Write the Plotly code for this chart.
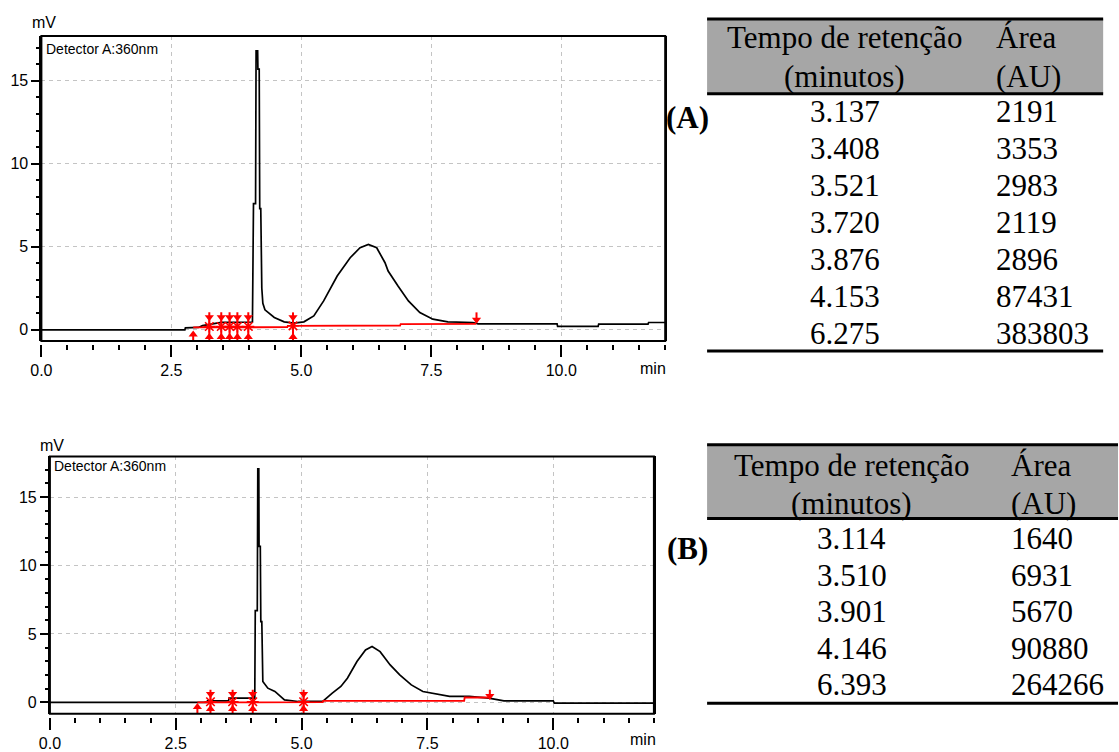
import plotly.graph_objects as go

W, H = 1119, 752

# ---------------- data: chromatogram A ----------------
time_a = [0, 2.76, 2.77, 3.02, 3.10, 3.30, 3.46, 3.70, 4.06, 4.08, 4.12, 4.13, 4.16, 4.165, 4.19,
          4.20, 4.22, 4.24, 4.26, 4.30, 4.40, 4.48, 4.67, 4.86, 5.05, 5.24, 5.43, 5.69, 5.94,
          6.13, 6.29, 6.45, 6.61, 6.67, 6.86, 7.06, 7.28, 7.53, 7.82, 8.30, 8.40, 9.92, 9.93,
          10.71, 10.72, 11.67, 11.68, 12.0]
signal_a = [0, 0, 0.12, 0.14, 0.25, 0.35, 0.45, 0.45, 0.47, 7.6, 7.6, 16.8, 16.8, 15.7, 15.7,
            7.3, 7.3, 2.5, 1.6, 1.2, 0.95, 0.74, 0.48, 0.40, 0.48, 0.84, 1.74, 3.24, 4.34,
            4.94, 5.14, 4.94, 4.04, 3.54, 2.64, 1.74, 1.04, 0.64, 0.48, 0.44, 0.36, 0.36, 0.2,
            0.2, 0.34, 0.34, 0.44, 0.44]
base_time_a = [2.92, 4.73, 4.74, 6.90, 6.91, 8.36]
base_val_a = [0.14, 0.16, 0.24, 0.26, 0.34, 0.36]
marks_a = [3.23, 3.46, 3.62, 3.77, 3.98, 4.84]
marks_level_a = [0.2, 0.2, 0.2, 0.2, 0.2, 0.24]
start_a, end_a = 2.92, 8.37

# ---------------- data: chromatogram B ----------------
time_b = [0, 3.12, 3.13, 3.55, 3.56, 4.07, 4.08, 4.12, 4.13, 4.15, 4.155, 4.18, 4.19, 4.21,
          4.23, 4.33, 4.47, 4.66, 4.93, 5.42, 5.61, 5.78, 5.91, 6.10, 6.27, 6.40, 6.56, 6.76,
          6.95, 7.18, 7.41, 7.68, 7.94, 8.33, 8.72, 9.02, 10.0, 10.02, 12.0]
signal_b = [0, 0, 0.12, 0.12, 0.31, 0.31, 6.7, 6.7, 17.06, 17.06, 11.4, 11.4, 5.9, 5.9,
            1.53, 1.04, 0.8, 0.19, 0.07, 0.07, 0.68, 1.17, 1.77, 2.99, 3.83, 4.08, 3.71, 2.74,
            2.01, 1.28, 0.80, 0.60, 0.44, 0.44, 0.31, 0.12, 0.12, -0.05, -0.05]
base_time_b = [2.93, 5.42, 5.43, 8.23, 8.24, 8.74]
base_val_b = [0.0, 0.02, 0.12, 0.12, 0.36, 0.36]
marks_b = [3.19, 3.63, 4.03, 5.04]
marks_level_b = [0.05, 0.05, 0.05, 0.05]
start_b, end_b = 2.93, 8.74

x_ticks = [0, 2.5, 5.0, 7.5, 10.0]
x_tick_labels = ["0.0", "2.5", "5.0", "7.5", "10.0"]
y_ticks = [0, 5, 10, 15]

# ---------------- data: tables ----------------
header_col1 = ["Tempo de retenção", "(minutos)"]
header_col2 = ["Área", "(AU)"]
rt_a = ["3.137", "3.408", "3.521", "3.720", "3.876", "4.153", "6.275"]
area_a = ["2191", "3353", "2983", "2119", "2896", "87431", "383803"]
rt_b = ["3.114", "3.510", "3.901", "4.146", "6.393"]
area_b = ["1640", "6931", "5670", "90880", "264266"]

RED = "#ff0000"
GRID = "#c4c4c4"
SANS = "Liberation Sans, Arial, sans-serif"
AXFONT = dict(family=SANS, size=16, color="black")
LBLFONT = dict(family=SANS, size=14, color="black")
SERIF = "Liberation Serif, Times New Roman, serif"


def px(x):
    return x / W


def py(y):
    return 1 - y / H


fig = go.Figure()


def add_chrom(xa, ya, t, s, bt, bv, marks, levels, start, end, span):
    fig.add_trace(go.Scatter(x=t, y=s, mode="lines", line=dict(color="black", width=1.7),
                             xaxis=xa, yaxis=ya, showlegend=False, hoverinfo="skip"))
    fig.add_trace(go.Scatter(x=bt, y=bv, mode="lines", line=dict(color=RED, width=1.8),
                             xaxis=xa, yaxis=ya, showlegend=False, hoverinfo="skip"))
    lo, hi = span
    vx, vy = [], []
    for m in marks:
        vx += [m, m, None]
        vy += [lo, hi, None]
    vx += [start, start, None, end, end, None]
    vy += [lo, lo + 0.6, None, hi - 0.6, hi, None]
    fig.add_trace(go.Scatter(x=vx, y=vy, mode="lines", line=dict(color=RED, width=2),
                             xaxis=xa, yaxis=ya, showlegend=False, hoverinfo="skip"))
    fig.add_trace(go.Scatter(x=marks, y=levels, mode="markers",
                             marker=dict(symbol="asterisk-open", size=10, color=RED,
                                         line=dict(color=RED, width=1.6)),
                             xaxis=xa, yaxis=ya, showlegend=False, hoverinfo="skip"))
    fig.add_trace(go.Scatter(x=marks + [end], y=[hi - 0.3] * len(marks) + [hi - 0.45],
                             mode="markers",
                             marker=dict(symbol="triangle-down", size=8, color=RED),
                             xaxis=xa, yaxis=ya, showlegend=False, hoverinfo="skip"))
    fig.add_trace(go.Scatter(x=marks + [start], y=[lo + 0.3] * len(marks) + [lo + 0.45],
                             mode="markers",
                             marker=dict(symbol="triangle-up", size=8, color=RED),
                             xaxis=xa, yaxis=ya, showlegend=False, hoverinfo="skip"))


add_chrom("x", "y", time_a, signal_a, base_time_a, base_val_a, marks_a, marks_level_a,
          start_a, end_a, (-0.74, 1.05))
add_chrom("x2", "y2", time_b, signal_b, base_time_b, base_val_b, marks_b, marks_level_b,
          start_b, end_b, (-0.78, 0.92))

A = dict(l=30.7, r=660.7, t=36, b=342)
B = dict(l=39.3, r=649.3, t=457.7, b=715.7)


def xaxis_cfg(d, gap):
    return dict(domain=[px(d["l"]), px(d["r"])], range=[0, 12], anchor="free",
                position=py(d["b"] + gap), tickvals=x_ticks, ticktext=x_tick_labels,
                ticks="outside", ticklen=12, tickwidth=1.6, tickcolor="black",
                minor=dict(dtick=0.5, tick0=0, ticks="outside", ticklen=5, tickwidth=1.6,
                           tickcolor="black", showgrid=False),
                showline=False, showgrid=True, gridcolor=GRID, griddash="4px,4px", gridwidth=1.3,
                zeroline=False, tickfont=AXFONT, fixedrange=True)


def yaxis_cfg(d, rng, xname):
    return dict(domain=[py(d["b"]), py(d["t"])], range=rng, anchor=xname,
                tickvals=y_ticks, ticks="outside", ticklen=8, tickwidth=1.6, tickcolor="black",
                minor=dict(dtick=1, tick0=0, ticks="outside", ticklen=3, tickwidth=1.6,
                           tickcolor="black", showgrid=False),
                showline=True, linecolor="black", linewidth=2, mirror=True,
                showgrid=True, gridcolor=GRID, griddash="4px,4px", gridwidth=1.3,
                zeroline=False, tickfont=AXFONT, fixedrange=True)


fig.update_layout(
    width=W, height=H, margin=dict(l=0, r=0, t=0, b=0),
    paper_bgcolor="white", plot_bgcolor="white", showlegend=False,
    xaxis=xaxis_cfg(A, 3),
    yaxis=yaxis_cfg(A, [-0.68, 17.7], "x"),
    xaxis2=xaxis_cfg(B, 3),
    yaxis2=yaxis_cfg(B, [-0.83, 17.96], "x2"),
)

shapes = []
annos = []

for d in (A, B):
    shapes.append(dict(type="rect", xref="paper", yref="paper", x0=px(d["l"]), x1=px(d["r"]),
                       y0=py(d["b"]), y1=py(d["t"]), line=dict(color="black", width=2),
                       fillcolor="rgba(0,0,0,0)", layer="above"))


def txt(text, x, y, font, xanchor="center"):
    annos.append(dict(text=text, x=px(x), y=py(y), xref="paper", yref="paper", showarrow=False,
                      xanchor=xanchor, yanchor="middle", font=font))


txt("mV", 33, 23, AXFONT)
txt("Detector A:360nm", 33, 49, LBLFONT, "left")
txt("min", 664, 369, AXFONT, "right")
txt("mV", 41, 447, AXFONT)
txt("Detector A:360nm", 41, 467, LBLFONT, "left")
txt("min", 653, 741, AXFONT, "right")


def add_table(label, label_y, x0, x1, top, hdr_bot, bottom, c1x, c2x, hdr_y, row_y, col1, col2):
    shapes.append(dict(type="rect", xref="paper", yref="paper", x0=px(x0), x1=px(x1),
                       y0=py(hdr_bot), y1=py(top), line=dict(width=0), fillcolor="#a6a6a6",
                       layer="below"))
    for yy in (top, hdr_bot, bottom):
        shapes.append(dict(type="line", xref="paper", yref="paper", x0=px(x0), x1=px(x1),
                           y0=py(yy), y1=py(yy), line=dict(color="black", width=3)))
    tf = dict(family=SERIF, size=31, color="black")
    for i in range(2):
        txt(header_col1[i], c1x, hdr_y[i], tf)
        txt(header_col2[i], c2x, hdr_y[i], tf, "left")
    for i, (a, b) in enumerate(zip(col1, col2)):
        yy = row_y[0] + (row_y[1] - row_y[0]) * i
        txt(a, c1x, yy, tf)
        txt(b, c2x, yy, tf, "left")
    txt("<b>" + label + "</b>", 683, label_y, dict(family=SERIF, size=31, color="black"))


add_table("(A)", 118, 703, 1103, 19, 94, 352, 842, 993, (38, 77), (112, 149), rt_a, area_a)
add_table("(B)", 550, 703, 1118, 446, 520, 705, 849, 1008, (467, 505), (540, 576.7), rt_b, area_b)

fig.update_layout(shapes=shapes, annotations=annos)
fig.write_html("out.html")
